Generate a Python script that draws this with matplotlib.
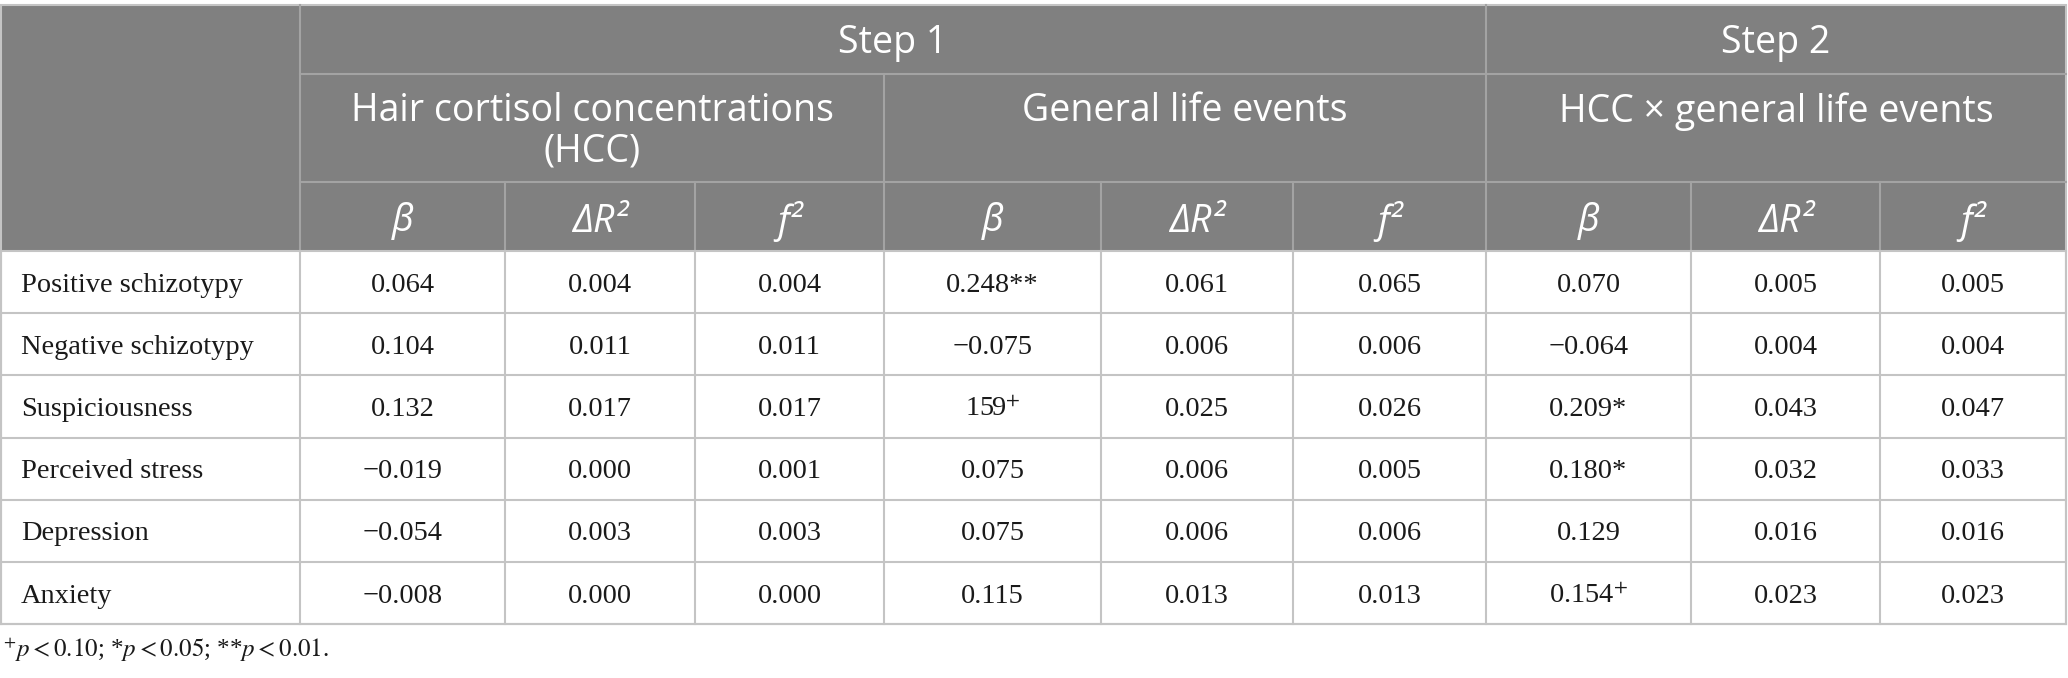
import matplotlib.pyplot as plt
from matplotlib.patches import Rectangle

# Tabla: valores
variables = ['Positive schizotypy', 'Negative schizotypy', 'Suspiciousness',
             'Perceived stress', 'Depression', 'Anxiety']
hcc_beta = ['0.064', '0.104', '0.132', '\u22120.019', '\u22120.054', '\u22120.008']
hcc_dr2 = ['0.004', '0.011', '0.017', '0.000', '0.003', '0.000']
hcc_f2 = ['0.004', '0.011', '0.017', '0.001', '0.003', '0.000']
gle_beta = ['0.248**', '\u22120.075', '159$^{+}$', '0.075', '0.075', '0.115']
gle_dr2 = ['0.061', '0.006', '0.025', '0.006', '0.006', '0.013']
gle_f2 = ['0.065', '0.006', '0.026', '0.005', '0.006', '0.013']
int_beta = ['0.070', '\u22120.064', '0.209*', '0.180*', '0.129', '0.154$^{+}$']
int_dr2 = ['0.005', '0.004', '0.043', '0.032', '0.016', '0.023']
int_f2 = ['0.005', '0.004', '0.047', '0.033', '0.016', '0.023']

steps = ['Step 1', 'Step 2']
groups = ['Hair cortisol concentrations\n(HCC)', 'General life events',
          'HCC \u00d7 general life events']
stats = ['\u03b2', '\u0394R\u00b2', 'f\u00b2']
footnote = r'$^{+}p{<}0.10$; *$p{<}0.05$; **$p{<}0.01$.'

# Layout (pixeles)
W, H = 2068, 678
xcols = [1, 300, 505, 695, 884, 1101, 1293, 1486, 1691, 1880, 2066]
y_top, y_h1, y_h2, y_h3 = 5, 74, 182, 251
row_h = 62.2

HEAD_BG = '#808080'
HEAD_LINE = '#a3a3a3'
GRID = '#c4c4c4'
LW = 1.5

fig = plt.figure(figsize=(W / 100, H / 100), dpi=100)
ax = fig.add_axes([0, 0, 1, 1])
ax.set_xlim(0, W)
ax.set_ylim(H, 0)
ax.axis('off')

head_font = ['Open Sans', 'Noto Sans', 'DejaVu Sans']
body_font = ['Liberation Serif', 'DejaVu Serif']
HEAD_SIZE = 27

# Fondo del encabezado
ax.add_patch(Rectangle((xcols[0], y_top), xcols[-1] - xcols[0], y_h3 - y_top,
                       facecolor=HEAD_BG, edgecolor='none'))

# Lineas del encabezado
ax.plot([xcols[1], xcols[-1]], [y_h1, y_h1], color=HEAD_LINE, lw=LW)
ax.plot([xcols[1], xcols[-1]], [y_h2, y_h2], color=HEAD_LINE, lw=LW)
ax.plot([xcols[1], xcols[1]], [y_top, y_h3], color=HEAD_LINE, lw=LW)
ax.plot([xcols[7], xcols[7]], [y_top, y_h3], color=HEAD_LINE, lw=LW)
ax.plot([xcols[4], xcols[4]], [y_h1, y_h3], color=HEAD_LINE, lw=LW)
for i in [2, 3, 5, 6, 8, 9]:
    ax.plot([xcols[i], xcols[i]], [y_h2, y_h3], color=HEAD_LINE, lw=LW)

# Textos del encabezado
step_spans = [(1, 7), (7, 10)]
for s, (a, b) in zip(steps, step_spans):
    ax.text((xcols[a] + xcols[b]) / 2, (y_top + y_h1) / 2 + 4, s, color='white',
            fontsize=HEAD_SIZE, family=head_font, ha='center', va='center')

group_spans = [(1, 4), (4, 7), (7, 10)]
for g, (a, b) in zip(groups, group_spans):
    ax.text((xcols[a] + xcols[b]) / 2, y_h1 + 18, g, color='white',
            fontsize=HEAD_SIZE, family=head_font, ha='center', va='top',
            linespacing=1.07)

for k in range(9):
    xc = (xcols[k + 1] + xcols[k + 2]) / 2
    ax.text(xc, (y_h2 + y_h3) / 2 + 5, stats[k % 3], color='white',
            fontsize=HEAD_SIZE, family=head_font, style='italic', ha='center',
            va='center')

# Cuerpo de la tabla
columns = [hcc_beta, hcc_dr2, hcc_f2, gle_beta, gle_dr2, gle_f2,
           int_beta, int_dr2, int_f2]
n = len(variables)
y_bottom = y_h3 + n * row_h

for r in range(n):
    yc = y_h3 + (r + 0.5) * row_h + 3
    ax.text(21, yc, variables[r], fontsize=20.4, family=body_font,
            ha='left', va='center', color='#1a1a1a')
    for c, col in enumerate(columns):
        xc = (xcols[c + 1] + xcols[c + 2]) / 2
        ax.text(xc, yc, col[r], fontsize=20.4, family=body_font,
                math_fontfamily='stix', ha='center', va='center',
                color='#1a1a1a')

for r in range(1, n + 1):
    y = y_h3 + r * row_h
    ax.plot([xcols[0], xcols[-1]], [y, y], color=GRID, lw=LW)
for x in xcols:
    ax.plot([x, x], [y_h3, y_bottom], color=GRID, lw=LW)
ax.plot([xcols[0], xcols[-1]], [y_h3, y_h3], color=GRID, lw=LW)

# Borde exterior
ax.add_patch(Rectangle((xcols[0], y_top), xcols[-1] - xcols[0], y_bottom - y_top,
                       facecolor='none', edgecolor=GRID, lw=LW))

ax.text(3, 650, footnote, fontsize=18, family=body_font,
        math_fontfamily='stix', ha='left', va='center', color='#1a1a1a')

fig.savefig('out.png', dpi=100)
